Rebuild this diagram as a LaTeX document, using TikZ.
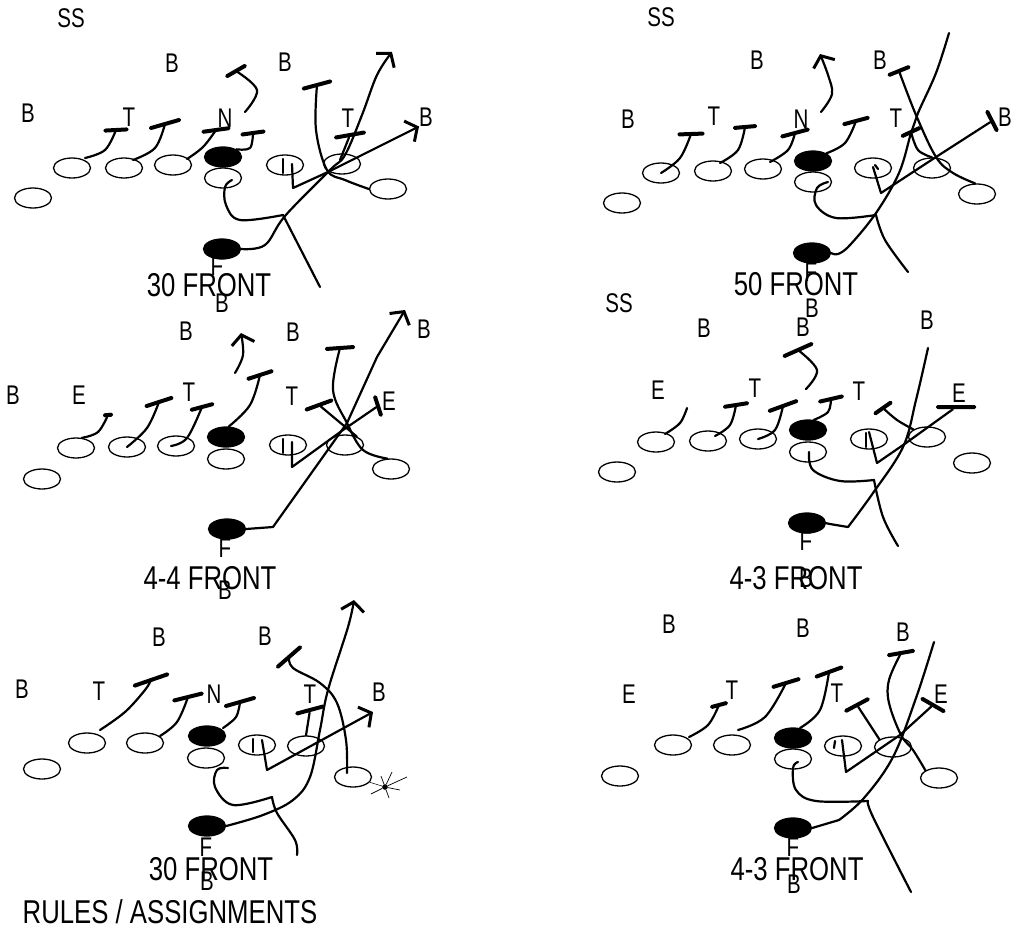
\documentclass[tikz,border=0pt]{standalone}
\usepackage{fontspec}
\setmainfont{Liberation Sans}
\usetikzlibrary{shapes.geometric, arrows.meta}

\begin{document}
\begin{tikzpicture}[
        x=1pt, y=-1pt,
        man/.style={draw, ellipse, minimum width=37pt, minimum height=20pt, inner sep=0pt, line width=1.3pt},
        solid man/.style={man, fill=black},
        lab/.style={font=\fontsize{27}{27}\selectfont, inner sep=0pt, xscale=0.76, transform shape},
        caption/.style={font=\fontsize{33}{33}\selectfont, inner sep=0pt, xscale=0.78, transform shape},
        tee/.style={fill=black, inner sep=0pt, minimum height=4pt, rounded corners=1.5pt},
        arr/.style={line width=2.2pt, line cap=round, line join=round},
        soft/.style={arr, smooth, tension=0.6},
        head/.style={-{Straight Barb[length=9pt, width=23pt, line width=3pt]}}
        ]
        \useasboundingbox (0,0) rectangle (1012,929);

        % 30 front, top left
        \node[lab] (p1ss) at (71,18) {SS};
        \node[lab] (p1ba) at (172,63) {B};
        \node[lab] (p1bb) at (285,62) {B};
        \node[lab] (p1bc) at (28,113) {B};
        \node[lab] (p1bd) at (426,117) {B};
        \node[lab] (p1be) at (222,303) {B};
        \node[lab] (p1ta) at (129,117) {T};
        \node[lab] (p1tb) at (348,118) {T};
        \node[lab] (p1n) at (225,118) {N};
        \node[lab] (p1f) at (217,266) {F};
        \node[caption] (p1cap) at (209,285) {30 FRONT};
        \node[man] (p1a) at (33,198) {};
        \node[man] (p1b) at (72,168) {};
        \node[man] (p1c) at (124,168) {};
        \node[man] (p1d) at (173,165) {};
        \node[solid man] (p1e) at (223,157) {};
        \node[man] (p1g) at (223,178) {};
        \node[man] (p1h) at (285,165) {};
        \node[man] (p1i) at (342,164) {};
        \node[man] (p1j) at (388,189) {};
        \node[solid man] (p1k) at (222,249) {};
        \node[tee, rotate=3, minimum width=25pt] (p1x) at (116,130) {};
        \node[tee, rotate=16, minimum width=33pt] (p1y) at (165,124) {};
        \node[tee, rotate=8, minimum width=29pt] (p1z) at (216,130) {};
        \node[tee, rotate=8, minimum width=25pt] (p1u) at (253,133) {};
        \node[tee, rotate=30, minimum width=24pt] (p1v) at (236,71) {};
        \node[tee, rotate=15, minimum width=31pt] (p1w) at (317,85) {};
        \node[tee, rotate=10, minimum width=32pt] (p1s) at (350,135) {};
        \coordinate (p1end) at (320,287);
        \draw[arr] (p1h.center) ++(-2,-6) -- ++(0,14);
        \draw[soft] plot coordinates {(85,158) (105,150) (p1x)};
        \draw[soft] plot coordinates {(133,160) (155,148) (p1y)};
        \draw[soft] plot coordinates {(187,159) (203,147) (p1z)};
        \draw[soft] plot coordinates {(p1e.30) (250,148) (p1u)};
        \draw[soft] plot coordinates {(245,112) (257,90) (p1v)};
        \draw[arr, head] (292,164) -- (293,188) -- (328,172) -- (p1bd.south west);
        \draw[arr] (340,160) -- (p1s);
        \draw[soft, head] plot coordinates {(p1k.east) (265,245) (285,216) (330,170) (345,155) (362,115) (377,75) (392,52)};
        \draw[soft] plot coordinates {(p1j.west) (345,180) (327,170) (316,130) (p1w)};
        \draw[soft] plot coordinates {(232,180) (225,187) (226,205) (240,220) (283,215)};
        \draw[arr] (283,215) -- (p1end);

        % 50 front, top right
        \node[lab] (p2ss) at (661,17) {SS};
        \node[lab] (p2ba) at (757,60) {B};
        \node[lab] (p2bb) at (880,60) {B};
        \node[lab] (p2bc) at (628,119) {B};
        \node[lab] (p2bd) at (1005,117) {B};
        \node[lab] (p2be) at (812,308) {B};
        \node[lab] (p2ta) at (714,116) {T};
        \node[lab] (p2tb) at (896,118) {T};
        \node[lab] (p2n) at (801,119) {N};
        \node[lab] (p2f) at (811,272) {F};
        \node[caption] (p2cap) at (796,284) {50 FRONT};
        \node[man] (p2a) at (622,203) {};
        \node[man] (p2b) at (661,173) {};
        \node[man] (p2c) at (713,171) {};
        \node[man] (p2d) at (763,169) {};
        \node[solid man] (p2e) at (813,161) {};
        \node[man] (p2g) at (813,182) {};
        \node[man] (p2h) at (873,168) {};
        \node[man] (p2i) at (932,168) {};
        \node[man] (p2j) at (977,194) {};
        \node[solid man] (p2k) at (812,253) {};
        \node[tee, rotate=2, minimum width=27pt] (p2x) at (691,134) {};
        \node[tee, rotate=5, minimum width=24pt] (p2y) at (745,127) {};
        \node[tee, rotate=15, minimum width=30pt] (p2z) at (795,133) {};
        \node[tee, rotate=15, minimum width=28pt] (p2u) at (856,121) {};
        \node[tee, rotate=22, minimum width=24pt] (p2v) at (899,71) {};
        \node[tee, rotate=25, minimum width=22pt] (p2w) at (911,132) {};
        \node[tee, rotate=-63, minimum width=24pt] (p2s) at (992,121) {};
        \coordinate (p2tip) at (820,54);
        \coordinate (p2top) at (949,33);
        \coordinate (p2end) at (908,272);
        \draw[arr] (p2h.center) ++(2,-3) -- ++(3,4);
        \draw[soft] plot coordinates {(p2b.center) (680,158) (p2x)};
        \draw[soft] plot coordinates {(720,163) (738,150) (p2y)};
        \draw[soft] plot coordinates {(770,162) (788,150) (p2z)};
        \draw[soft] plot coordinates {(p2e.30) (845,143) (p2u)};
        \draw[soft, head] plot coordinates {(821,112) (832,94) (828,75) (p2tip)};
        \draw[arr] (873,167) -- (881,193) -- (936,157) -- (p2s);
        \draw[soft] plot coordinates {(p2i.north) (918,150) (p2w)};
        \draw[soft] plot coordinates {(p2j.100) (953,173) (936,157) (916,115) (p2v)};
        \draw[soft] plot coordinates {(p2k.east) (838,254) (850,245) (876,213) (899,173) (911,133) (918,113) (936,73) (p2top)};
        \draw[soft] plot coordinates {(828,182) (817,188) (816,205) (836,218) (876,215)};
        \draw[soft] plot coordinates {(876,215) (885,240) (p2end)};

        % 4-4 front, middle left
        \node[lab] (p3ba) at (186,331) {B};
        \node[lab] (p3bb) at (293,332) {B};
        \node[lab] (p3bc) at (13,395) {B};
        \node[lab] (p3bd) at (424,329) {B};
        \node[lab] (p3be) at (225,590) {B};
        \node[lab] (p3ea) at (79,395) {E};
        \node[lab] (p3eb) at (389,401) {E};
        \node[lab] (p3ta) at (189,392) {T};
        \node[lab] (p3tb) at (292,396) {T};
        \node[lab] (p3f) at (225,548) {F};
        \node[caption] (p3cap) at (210,578) {4-4 FRONT};
        \node[man] (p3a) at (42,479) {};
        \node[man] (p3b) at (76,448) {};
        \node[man] (p3c) at (127,447) {};
        \node[man] (p3d) at (176,446) {};
        \node[solid man] (p3e) at (226,437) {};
        \node[man] (p3g) at (226,459) {};
        \node[man] (p3h) at (288,445) {};
        \node[man] (p3i) at (345,445) {};
        \node[man] (p3j) at (391,469) {};
        \node[solid man] (p3k) at (227,529) {};
        \node[tee, rotate=5, minimum width=10pt] (p3x) at (108,415) {};
        \node[tee, rotate=18, minimum width=30pt] (p3y) at (159,402) {};
        \node[tee, rotate=15, minimum width=25pt] (p3z) at (202,407) {};
        \node[tee, rotate=18, minimum width=28pt] (p3u) at (260,375) {};
        \node[tee, rotate=4, minimum width=30pt] (p3v) at (340,348) {};
        \node[tee, rotate=20, minimum width=30pt] (p3w) at (319,405) {};
        \node[tee, rotate=-72, minimum width=22pt] (p3s) at (378,406) {};
        \coordinate (p3tip) at (241,333);
        \coordinate (p3top) at (405,310);
        \draw[arr] (p3h.center) ++(-5,-6) -- ++(0,14);
        \draw[soft] plot coordinates {(p3b.60) (98,432) (p3x)};
        \draw[soft] plot coordinates {(p3c.center) (147,428) (p3y)};
        \draw[soft] plot coordinates {(171,446) (187,438) (p3z)};
        \draw[soft] plot coordinates {(p3e.75) (250,405) (p3u)};
        \draw[soft, head] plot coordinates {(235,373) (243,355) (p3tip)};
        \draw[arr] (292,442) -- (292,467) -- (343,430) -- (p3s);
        \draw[arr, head] (p3k.east) -- (273,527) -- (347,423) -- (377,357) -- (p3top);
        \draw[soft] plot coordinates {(p3j.110) (363,450) (347,423) (333,390) (p3v)};
        \draw[arr] (p3i.35) -- (p3w);

        % 4-3 front, middle right
        \node[lab] (p4ss) at (619,303) {SS};
        \node[lab] (p4ba) at (704,328) {B};
        \node[lab] (p4bb) at (803,327) {B};
        \node[lab] (p4bc) at (927,320) {B};
        \node[lab] (p4bd) at (806,578) {B};
        \node[lab] (p4ea) at (658,390) {E};
        \node[lab] (p4eb) at (959,393) {E};
        \node[lab] (p4ta) at (755,388) {T};
        \node[lab] (p4tb) at (859,391) {T};
        \node[lab] (p4f) at (806,541) {F};
        \node[caption] (p4cap) at (796,578) {4-3 FRONT};
        \node[man] (p4a) at (617,472) {};
        \node[man] (p4b) at (656,442) {};
        \node[man] (p4c) at (708,441) {};
        \node[man] (p4d) at (758,439) {};
        \node[solid man] (p4e) at (808,430) {};
        \node[man] (p4g) at (808,452) {};
        \node[man] (p4h) at (869,439) {};
        \node[man] (p4i) at (927,437) {};
        \node[man] (p4j) at (972,463) {};
        \node[solid man] (p4k) at (807,523) {};
        \node[tee, rotate=9, minimum width=26pt] (p4x) at (736,405) {};
        \node[tee, rotate=20, minimum width=32pt] (p4y) at (783,406) {};
        \node[tee, rotate=13, minimum width=26pt] (p4z) at (831,399) {};
        \node[tee, rotate=24, minimum width=33pt] (p4u) at (798,350) {};
        \node[tee, rotate=35, minimum width=22pt] (p4v) at (883,408) {};
        \node[tee, rotate=0, minimum width=40pt] (p4w) at (956,407) {};
        \coordinate (p4dot) at (687,408);
        \coordinate (p4top) at (928,348);
        \coordinate (p4end) at (898,546);
        \draw[arr] (p4h.center) ++(-3,-6) -- ++(0,14);
        \draw[soft] plot coordinates {(665,434) (680,423) (p4dot)};
        \draw[soft] plot coordinates {(715,436) (730,425) (p4x)};
        \draw[soft] plot coordinates {(758,439) (775,430) (p4y)};
        \draw[soft] plot coordinates {(p4e.60) (828,412) (p4z)};
        \draw[soft] plot coordinates {(806,389) (817,370) (p4u)};
        \draw[arr] (869,432) -- (877,463) -- (906,443) -- (p4w);
        \draw[soft] plot coordinates {(p4i.north west) (897,420) (p4v)};
        \draw[soft] plot coordinates {(p4k.east) (830,524) (848,527)};
        \draw[soft] plot coordinates {(848,527) (873,493) (903,447) (916,400) (p4top)};
        \draw[soft] plot coordinates {(809,452) (813,470) (840,481) (874,480)};
        \draw[soft] plot coordinates {(874,480) (883,517) (p4end)};

        % 30 front, bottom left
        \node[lab] (p5ba) at (159,637) {B};
        \node[lab] (p5bb) at (265,636) {B};
        \node[lab] (p5bc) at (22,689) {B};
        \node[lab] (p5bd) at (379,692) {B};
        \node[lab] (p5be) at (207,881) {B};
        \node[lab] (p5ta) at (99,691) {T};
        \node[lab] (p5tb) at (310,694) {T};
        \node[lab] (p5n) at (214,694) {N};
        \node[lab] (p5f) at (206,847) {F};
        \node[caption] (p5cap) at (211,869) {30 FRONT};
        \node[caption] (p5rules) at (170,912) {RULES / ASSIGNMENTS};
        \node[man] (p5a) at (42,769) {};
        \node[man] (p5b) at (87,743) {};
        \node[man] (p5c) at (145,743) {};
        \node[solid man] (p5e) at (207,736) {};
        \node[man] (p5g) at (206,758) {};
        \node[man] (p5h) at (257,745) {};
        \node[man] (p5i) at (306,746) {};
        \node[man] (p5j) at (353,777) {};
        \node[solid man] (p5k) at (207,826) {};
        \node[fill=black, circle, inner sep=2pt] (p5star) at (385,787) {};
        \node[tee, rotate=19, minimum width=38pt] (p5x) at (151,680) {};
        \node[tee, rotate=14, minimum width=32pt] (p5y) at (188,697) {};
        \node[tee, rotate=16, minimum width=33pt] (p5z) at (240,702) {};
        \node[tee, rotate=15, minimum width=30pt] (p5u) at (310,710) {};
        \node[tee, rotate=41, minimum width=33pt] (p5v) at (289,657) {};
        \coordinate (p5qb) at (373,712);
        \coordinate (p5top) at (354,600);
        \coordinate (p5end) at (297,855);
        \draw[arr] (p5h.center) ++(-4,-6) -- ++(0,13);
        \draw[soft] plot coordinates {(100,730) (125,712) (145,690) (p5x)};
        \draw[soft] plot coordinates {(160,736) (177,722) (p5y)};
        \draw[soft] plot coordinates {(223,728) (236,717) (p5z)};
        \draw[arr, head] (262,740) -- (267,770) -- (p5qb);
        \draw[arr] (p5i.north) -- (p5u);
        \draw[soft] plot coordinates {(347,773) (346,740) (337,703) (320,683) (293,668) (p5v)};
        \draw[soft, head] plot coordinates {(p5k.east) (263,815) (293,800) (310,777) (320,730) (328,690) (348,627) (p5top)};
        \draw[soft] plot coordinates {(228,768) (217,770) (215,787) (233,805) (272,797)};
        \draw[soft] plot coordinates {(272,797) (277,813) (295,840) (p5end)};
        \draw[line width=0.5pt] (p5j) -- (p5star);
        \draw[line width=0.7pt] (p5star) -- ++(22,-10);
        \draw[line width=0.7pt] (p5star) -- ++(-14,7);
        \draw[line width=0.7pt] (p5star) -- ++(7,-15);
        \draw[line width=0.7pt] (p5star) -- ++(-4,-11);
        \draw[line width=0.7pt] (p5star) -- ++(4,11);
        \draw[line width=0.7pt] (p5star) -- ++(15,3);

        % 4-3 front, bottom right
        \node[lab] (p6ba) at (669,624) {B};
        \node[lab] (p6bb) at (803,628) {B};
        \node[lab] (p6bc) at (903,632) {B};
        \node[lab] (p6bd) at (794,884) {B};
        \node[lab] (p6ea) at (629,694) {E};
        \node[lab] (p6eb) at (941,694) {E};
        \node[lab] (p6ta) at (732,690) {T};
        \node[lab] (p6tb) at (837,693) {T};
        \node[lab] (p6f) at (793,847) {F};
        \node[caption] (p6cap) at (797,869) {4-3 FRONT};
        \node[man] (p6a) at (620,776) {};
        \node[man] (p6b) at (673,745) {};
        \node[man] (p6c) at (732,745) {};
        \node[solid man] (p6e) at (793,738) {};
        \node[man] (p6g) at (793,759) {};
        \node[man] (p6h) at (843,746) {};
        \node[man] (p6i) at (893,747) {};
        \node[man] (p6j) at (939,778) {};
        \node[solid man] (p6k) at (793,828) {};
        \node[tee, rotate=15, minimum width=18pt] (p6x) at (719,705) {};
        \node[tee, rotate=17, minimum width=30pt] (p6y) at (786,683) {};
        \node[tee, rotate=20, minimum width=30pt] (p6z) at (829,672) {};
        \node[tee, rotate=-30, minimum width=28pt] (p6u) at (933,705) {};
        \node[tee, rotate=28, minimum width=28pt] (p6v) at (857,705) {};
        \node[tee, rotate=10, minimum width=28pt] (p6w) at (901,653) {};
        \coordinate (p6top) at (934,642);
        \coordinate (p6end) at (911,892);
        \draw[arr] (p6h.center) ++(-8,-5) -- ++(-1,7);
        \draw[soft] plot coordinates {(689,737) (708,725) (p6x)};
        \draw[soft] plot coordinates {(738,730) (765,717) (p6y)};
        \draw[soft] plot coordinates {(800,728) (820,710) (p6z)};
        \draw[arr] (842,740) -- (846,772) -- (900,735) -- (p6u);
        \draw[arr] (p6i.north west) -- (p6v);
        \draw[soft] plot coordinates {(p6j.north west) (913,750) (901,735) (889,703) (889,680) (p6w)};
        \draw[soft] plot coordinates {(p6k.east) (839,820)};
        \draw[soft] plot coordinates {(839,820) (864,798) (893,757) (916,698) (p6top)};
        \draw[soft] plot coordinates {(798,762) (793,768) (796,790) (816,801) (868,801)};
        \draw[soft] plot coordinates {(868,801) (873,817) (p6end)};
    \end{tikzpicture}
\end{document}
